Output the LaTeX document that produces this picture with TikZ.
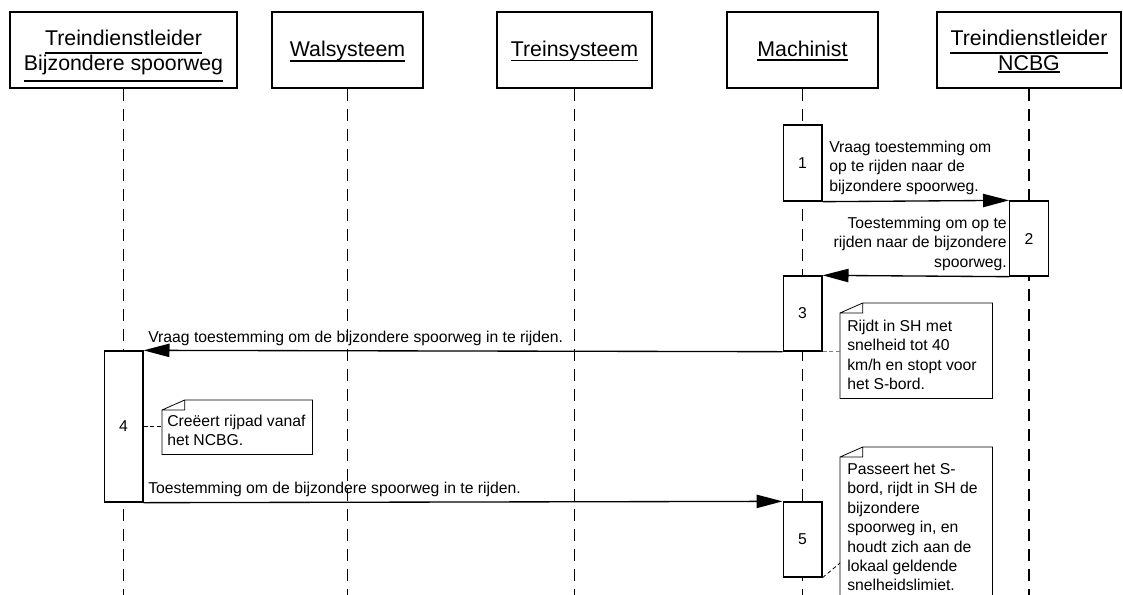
\documentclass[tikz,border=0pt]{standalone}
\usepackage{fontspec}
\setmainfont{Liberation Sans}
\usetikzlibrary{arrows.meta}

% note outline with the folded corner top left
\newcommand\foldnote[1]{%
  \draw[line width=0.6pt] ([yshift=-7.5pt]#1.north west) -- ([xshift=17pt]#1.north west)
    -- (#1.north east) -- (#1.south east) -- (#1.south west) -- cycle
    ([yshift=-7.5pt]#1.north west) -- ([xshift=17pt,yshift=-7.5pt]#1.north west)
    -- ([xshift=17pt]#1.north west);}

\tikzset{
  actor/.style={draw, line width=1pt, minimum height=57pt, inner sep=0pt},
  actorname/.style={inner sep=0pt, anchor=base, font=\fontsize{16}{18.75}\selectfont},
  nameline/.style={line width=0.9pt},
  lifeline/.style={line width=1pt, dash pattern=on 9pt off 6pt},
  act/.style={draw, fill=white, line width=1pt, minimum width=29pt, inner sep=0pt,
    font=\fontsize{11.8}{14.6}\selectfont},
  msg/.style={line width=1pt, -{Triangle[length=19.5pt,width=10pt]}},
  msgtext/.style={inner sep=0pt, font=\fontsize{11.8}{14.6}\selectfont},
  note/.style={fill=white, inner sep=0pt, minimum width=114pt, anchor=north west},
  notetext/.style={inner sep=0pt, anchor=north west, align=left,
    font=\fontsize{11.8}{14.6}\selectfont},
  notelink/.style={line width=0.6pt, dash pattern=on 3pt off 2pt},
}

\begin{document}
\begin{tikzpicture}[x=0.75pt,y=-0.75pt]
  \useasboundingbox (0,0) rectangle (1123,594);
  \clip (0,0) rectangle (1123,594);
  \coordinate (bottom) at (0,600);

  % objects
  \node[actor, minimum width=170.25pt] (tbs) at (123.5,50) {};
  \node[actor, minimum width=113.25pt] (wal) at (347.5,50) {};
  \node[actor, minimum width=116.25pt] (trs) at (574.5,50) {};
  \node[actor, minimum width=113.25pt] (mac) at (802.5,50) {};
  \node[actor, minimum width=138pt] (ncbg) at (1029,50) {};
  \node[actorname] (tbs1) at (123.5,45) {Treindienstleider};
  \node[actorname] (tbs2) at (123.5,70) {Bijzondere spoorweg};
  \node[actorname] (wal1) at (347.5,56.5) {Walsysteem};
  \node[actorname] (trs1) at (574.5,56.5) {Treinsysteem};
  \node[actorname] (mac1) at (802.5,56.5) {Machinist};
  \node[actorname] (ncbg1) at (1029,45) {Treindienstleider};
  \node[actorname] (ncbg2) at (1029,70) {NCBG};
  \foreach \obj/\drop in {tbs1/6pt,tbs2/8.25pt,wal1/3.4pt,trs1/3pt,mac1/2.6pt,ncbg1/6pt,ncbg2/1.5pt}
    \draw[nameline] ([yshift=-\drop]\obj.base west) -- ([yshift=-\drop]\obj.base east);

  % lifelines
  \foreach \obj in {tbs,wal,trs,mac,ncbg}
    \draw[lifeline] (\obj.south) -- (\obj.south |- bottom);

  % activations
  \node[act, minimum height=57pt] (a1) at (802.5,163) {1};
  \node[act, minimum height=56.25pt] (a2) at (1029,238.5) {2};
  \node[act, minimum height=56.25pt] (a3) at (802.5,313.5) {3};
  \node[act, minimum height=113.25pt] (a4) at (123.5,426.5) {4};
  \node[act, minimum height=56.25pt] (a5) at (802.5,539.5) {5};

  % messages
  \draw[msg] (a1.south east) -- (a2.north west);
  \draw[msg] (a2.south west) -- (a3.north east);
  \draw[msg] (a3.south west) -- (a4.north east);
  \draw[msg] (a4.south east) -- (a5.north west);
  \node[msgtext, anchor=north west, align=left] (m1) at (829,140.5) {Vraag toestemming om\\op te rijden naar de\\bijzondere spoorweg.};
  \node[msgtext, anchor=north east, align=right] (m2) at (1007,216.5) {Toestemming om op te\\rijden naar de bijzondere\\spoorweg.};
  \node[msgtext, anchor=north west] (m3) at (148,330.5) {Vraag toestemming om de bijzondere spoorweg in te rijden.};
  \node[msgtext, anchor=north west] (m4) at (148,481.5) {Toestemming om de bijzondere spoorweg in te rijden.};

  % notes
  \node[note, minimum height=71.25pt] (n3) at (840,303) {};
  \foldnote{n3}
  \node[notetext] (t3) at (847,319.5) {Rijdt in SH met\\snelheid tot 40\\km/h en stopt voor\\het S-bord.};
  \draw[notelink, gray] (a3.south east) -- (a3.south east -| n3.west);

  \node[note, minimum width=112.5pt, minimum height=40.5pt] (n4) at (162,400) {};
  \foldnote{n4}
  \node[notetext] (t4) at (167,414.5) {Creëert rijpad vanaf\\het NCBG.};
  \draw[notelink] (a4.east) -- (a4.east -| n4.west);

  \node[note, minimum height=120pt] (n5) at (840,447) {};
  \foldnote{n5}
  \node[notetext] (t5) at (847,462.5) {Passeert het S-\\bord, rijdt in SH de\\bijzondere\\spoorweg in, en\\houdt zich aan de\\lokaal geldende\\snelheidslimiet.};
  \draw[notelink] (a5.south east) -- ([yshift=-87pt]n5.north west);
\end{tikzpicture}
\end{document}
